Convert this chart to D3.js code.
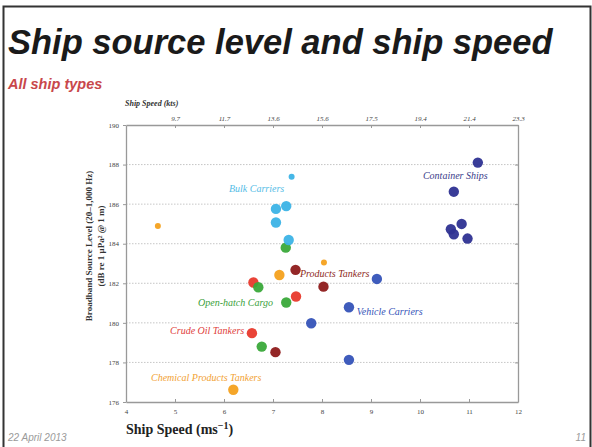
<!DOCTYPE html>
<html>
<head>
<meta charset="utf-8">
<script src="https://cdn.jsdelivr.net/npm/d3@7"></script>
<style>
  body { margin: 0; background: #fff; }
  svg { display: block; }
</style>
</head>
<body>
<div id="chart"></div>
<script>
// ---- data ----
const speedTicks = [4, 5, 6, 7, 8, 9, 10, 11, 12];
const knotTicks = [5, 6, 7, 8, 9, 10, 11, 12];
const knotLabels = ["9.7", "11.7", "13.6", "15.6", "17.5", "19.4", "21.4", "23.3"];
const levelTicks = [176, 178, 180, 182, 184, 186, 188, 190];

const categories = [
  "Container Ships", "Vehicle Carriers", "Products Tankers", "Crude Oil Tankers",
  "Open-hatch Cargo", "Bulk Carriers", "Chemical Products Tankers"
];

const containerSpeed = [11.18, 10.69, 10.85, 10.63, 10.69, 10.97];
const containerLevel = [188.1, 186.63, 185.0, 184.73, 184.48, 184.26];
const vehicleSpeed = [9.12, 8.55, 7.78, 8.55];
const vehicleLevel = [182.22, 180.79, 179.98, 178.13];
const productsSpeed = [7.46, 8.03, 7.05];
const productsLevel = [182.68, 181.83, 178.52];
const crudeSpeed = [6.6, 7.47, 6.57];
const crudeLevel = [182.04, 181.33, 179.48];
const openHatchSpeed = [7.26, 6.7, 7.27, 6.77];
const openHatchLevel = [183.8, 181.8, 181.03, 178.8];
const bulkSpeed = [7.38, 7.27, 7.06, 7.06, 7.32];
const bulkLevel = [187.39, 185.9, 185.76, 185.07, 184.19];
const chemicalSpeed = [4.65, 8.04, 7.13, 6.19];
const chemicalLevel = [184.9, 183.05, 182.42, 176.62];

// where each category name is written, in data units
const labelSpeed = [10.06, 8.71, 7.55, 4.9, 5.47, 6.1, 4.51];
const labelLevel = [187.25, 180.4, 182.34, 179.44, 180.83, 186.61, 177.06];

// ---- styling ----
const colors = ["#2e3192", "#3553b8", "#8e1b1b", "#e8392c", "#3aa93a", "#3cb3e6", "#f4a11d"];
const labelColors = ["#3a3d8a", "#3553b8", "#8e2a22", "#e0403a", "#3a9f3a", "#55bde6", "#f2a233"];
// a few markers are drawn smaller on the slide
const smallMarks = { "Bulk Carriers": [0], "Chemical Products Tankers": [0, 1] };

const width = 592, height = 447;
const margin = { top: 125, right: 74, bottom: 45, left: 126 };

const points = [];
const series = [
  [containerSpeed, containerLevel], [vehicleSpeed, vehicleLevel],
  [productsSpeed, productsLevel], [crudeSpeed, crudeLevel],
  [openHatchSpeed, openHatchLevel], [bulkSpeed, bulkLevel],
  [chemicalSpeed, chemicalLevel]
];
series.forEach(([sp, lv], i) => {
  sp.forEach((s, j) => {
    const small = (smallMarks[categories[i]] || []).includes(j);
    points.push({ cat: categories[i], ci: i, speed: s, level: lv[j], small });
  });
});

const svg = d3.select("#chart").append("svg")
  .attr("width", width).attr("height", height)
  .attr("viewBox", [0, 0, width, height]);

// slide frame
svg.append("path")
  .attr("d", `M3.5,447 V6.5 H590.5 V447`)
  .attr("fill", "none").attr("stroke", "#333").attr("stroke-width", 2);

// title and subtitle
svg.append("text")
  .attr("x", 8).attr("y", 54)
  .attr("font-family", "Liberation Sans, Arial, sans-serif")
  .attr("font-weight", "bold").attr("font-style", "italic")
  .attr("font-size", 34.5).attr("fill", "#1a1a1a")
  .text("Ship source level and ship speed");

svg.append("text")
  .attr("x", 8).attr("y", 89)
  .attr("font-family", "Liberation Sans, Arial, sans-serif")
  .attr("font-weight", "bold").attr("font-style", "italic")
  .attr("font-size", 14.5).attr("fill", "#c8474b")
  .text("All ship types");

// footer
svg.append("text")
  .attr("x", 8).attr("y", 441)
  .attr("font-family", "Liberation Sans, Arial, sans-serif")
  .attr("font-style", "italic").attr("font-size", 10).attr("fill", "#9a9a9a")
  .text("22 April 2013");
svg.append("text")
  .attr("x", 586).attr("y", 441).attr("text-anchor", "end")
  .attr("font-family", "Liberation Sans, Arial, sans-serif")
  .attr("font-style", "italic").attr("font-size", 10).attr("fill", "#9a9a9a")
  .text("11");

// scales
const x = d3.scaleLinear().domain([4, 12]).range([margin.left, width - margin.right]);
const y = d3.scaleLinear().domain([176, 190]).range([height - margin.bottom, margin.top]);

const serif = "Liberation Serif, Times New Roman, serif";

// gridlines (dotted)
svg.append("g")
  .selectAll("line")
  .data(levelTicks.slice(1, -1))
  .join("line")
  .attr("x1", x(4)).attr("x2", x(12))
  .attr("y1", (d) => y(d)).attr("y2", (d) => y(d))
  .attr("stroke", "#b8b8b8").attr("stroke-width", 0.8)
  .attr("stroke-dasharray", "1.5,1.5");

function styleAxis(g) {
  g.select(".domain").attr("stroke", "#999").attr("stroke-width", 1.3);
  g.selectAll(".tick line").attr("stroke", "#999");
  g.selectAll(".tick text").attr("fill", "#444").attr("font-family", serif).attr("font-size", 7);
}

// left axis
svg.append("g")
  .attr("transform", `translate(${x(4)},0)`)
  .call(d3.axisLeft(y).tickValues(levelTicks).tickSize(3).tickPadding(4).tickSizeOuter(0))
  .call(styleAxis);

// right axis, ticks inward
svg.append("g")
  .attr("transform", `translate(${x(12)},0)`)
  .call(d3.axisLeft(y).tickValues(levelTicks).tickSize(3).tickFormat("").tickSizeOuter(0))
  .call(styleAxis);

// bottom axis, ticks inward
svg.append("g")
  .attr("transform", `translate(0,${y(176)})`)
  .call(d3.axisBottom(x).tickValues(speedTicks).tickSize(-3).tickPadding(7).tickSizeOuter(0))
  .call(styleAxis);

// top axis in knots
svg.append("g")
  .attr("transform", `translate(0,${y(190)})`)
  .call(d3.axisTop(x).tickValues(knotTicks).tickSize(-3).tickPadding(4).tickSizeOuter(0)
    .tickFormat((d, i) => knotLabels[i]))
  .call(styleAxis)
  .call((g) => g.selectAll(".tick text").attr("font-style", "italic"));

// axis titles
svg.append("text")
  .attr("x", 125).attr("y", 106)
  .attr("font-family", serif).attr("font-weight", "bold").attr("font-style", "italic")
  .attr("font-size", 8).attr("fill", "#333")
  .text("Ship Speed (kts)");

const xTitle = svg.append("text")
  .attr("x", 126).attr("y", 434)
  .attr("font-family", serif).attr("font-weight", "bold")
  .attr("font-size", 14).attr("fill", "#222");
xTitle.append("tspan").text("Ship Speed (ms");
xTitle.append("tspan").attr("dy", -5).attr("font-size", 10).text("\u22121");
xTitle.append("tspan").attr("dy", 5).text(")");

const yTitle = svg.append("g")
  .attr("transform", "translate(92,246) rotate(-90)")
  .attr("font-family", serif).attr("font-weight", "bold")
  .attr("font-size", 9).attr("fill", "#333").attr("text-anchor", "middle");
yTitle.append("text").attr("x", 0).attr("y", 0)
  .text("Broadband Source Level (20\u20131,000 Hz)");
yTitle.append("text").attr("x", 0).attr("y", 12)
  .text("(dB re 1 \u03bcPa\u00b2 @ 1 m)");

// points
svg.append("g")
  .selectAll("circle")
  .data(points)
  .join("circle")
  .attr("cx", (d) => x(d.speed))
  .attr("cy", (d) => y(d.level))
  .attr("r", (d) => (d.small ? 3 : 5.2))
  .attr("fill", (d) => colors[d.ci])
  .attr("opacity", 0.95);

// category labels
svg.append("g")
  .selectAll("text")
  .data(categories)
  .join("text")
  .attr("x", (d, i) => x(labelSpeed[i]))
  .attr("y", (d, i) => y(labelLevel[i]))
  .attr("font-family", serif).attr("font-style", "italic")
  .attr("font-size", 10).attr("fill", (d, i) => labelColors[i])
  .text((d) => d);
</script>
</body>
</html>
